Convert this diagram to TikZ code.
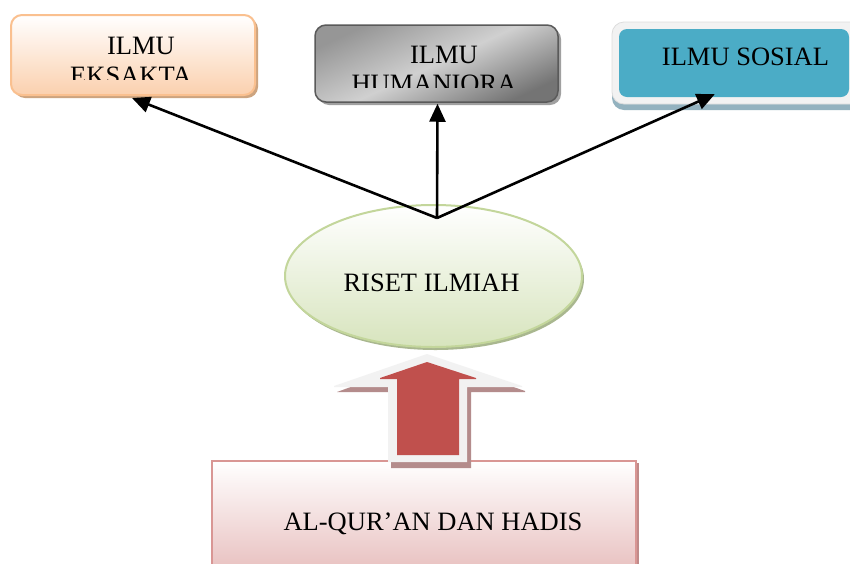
\documentclass[tikz,border=0pt]{standalone}
\usepackage{fontspec}
\setmainfont{Liberation Serif}
\usetikzlibrary{shapes.geometric,shadows,arrows.meta}
\definecolor{eksborder}{HTML}{FAC08F}
\definecolor{eksfill}{HTML}{FBD0AE}
\definecolor{eksshadow}{HTML}{CDA47F}
\definecolor{humborder}{HTML}{5A5A5A}
\definecolor{humdark}{HTML}{969696}
\definecolor{humdarker}{HTML}{747474}
\definecolor{humlight}{HTML}{D0D0D0}
\definecolor{humshadow}{HTML}{A0A0A0}
\definecolor{sosframe}{HTML}{F2F2F2}
\definecolor{sosframeb}{HTML}{DDDDDD}
\definecolor{sosshadow}{HTML}{93B2BF}
\definecolor{teal}{HTML}{4BACC6}
\definecolor{ellborder}{HTML}{C3D69B}
\definecolor{ellfill}{HTML}{D7E4BD}
\definecolor{ellshadow}{HTML}{A9B78F}
\definecolor{arrred}{HTML}{C0504D}
\definecolor{arrwhite}{HTML}{F2F2F2}
\definecolor{arrshadow}{HTML}{B48C8C}
\definecolor{qborder}{HTML}{D99694}
\definecolor{qfill}{HTML}{E4B5B4}
\definecolor{qshadow}{HTML}{C08A89}
\begin{document}
\begin{tikzpicture}[x=1pt,y=-1pt,
  txt/.style={font=\fontsize{26.5}{30}\selectfont, anchor=base, inner sep=0pt, text=black},
  arr/.style={line width=2.6pt, -{Triangle[length=18pt,width=16pt]}},
  plainbox/.style={rectangle, inner sep=0pt}
]
\clip (0,0) rectangle (850,563);
\fill[white] (0,0) rectangle (850,563);

% ---- ILMU EKSAKTA
\node[plainbox, rounded corners=11pt, minimum width=244pt, minimum height=80pt,
  draw=eksborder, line width=2pt, top color=white, bottom color=eksfill,
  drop shadow={shadow xshift=3pt, shadow yshift=-3pt, fill=eksshadow, opacity=1}]
  (eks) at (133,55) {};
\begin{scope}
  \clip (11,15) rectangle (255,79);
  \node[txt] (eksA) at (141,54.3) {ILMU};
  \node[txt] (eksB) at (131,84.5) {EKSAKTA};
\end{scope}

% ---- ILMU HUMANIORA
\node[plainbox, rounded corners=11pt, minimum width=243pt, minimum height=77pt,
  draw=humborder, line width=1.5pt, left color=humdark, right color=humdarker,
  middle color=humlight, shading angle=25,
  drop shadow={shadow xshift=3pt, shadow yshift=-3pt, fill=humshadow, opacity=1}]
  (hum) at (436.5,63.5) {};
\begin{scope}
  \clip (315,25) rectangle (558,87);
  \node[txt] (humA) at (444,63.3) {ILMU};
  \node[txt] (humB) at (434,92.8) {HUMANIORA};
\end{scope}

% ---- ILMU SOSIAL
\node[plainbox, rounded corners=12pt, minimum width=260pt, minimum height=82pt,
  fill=sosframe, draw=sosframeb, line width=0.8pt,
  drop shadow={shadow xshift=0pt, shadow yshift=-6pt, fill=sosshadow, opacity=1}]
  (sosf) at (742,63) {};
\node[plainbox, rounded corners=8pt, minimum width=230pt, minimum height=68pt,
  fill=teal] (sos) at (734,63) {};
\node[txt] (sosA) at (745.5,65) {ILMU SOSIAL};

% ---- RISET ILMIAH
\node[ellipse, inner sep=0pt, minimum width=297pt, minimum height=142pt,
  draw=ellborder, line width=2pt, top color=white, bottom color=ellfill,
  drop shadow={shadow xshift=2pt, shadow yshift=-3pt, fill=ellshadow, opacity=1}]
  (riset) at (433.5,276) {};
\node[txt] (risetA) at (431.5,291.7) {RISET ILMIAH};

% ---- connectors
\coordinate (apex) at (437,218);
\draw[arr] (apex) -- ([xshift=-1pt,yshift=-2pt]eks.south);
\draw[arr] (apex) -- ([xshift=1pt,yshift=-1pt]hum.south);
\draw[arr] (apex) -- ([xshift=96pt,yshift=3pt]sos.south west);

% ---- AL-QUR'AN DAN HADIS
\node[plainbox, minimum width=424pt, minimum height=130pt,
  draw=qborder, line width=1.8pt, top color=white, bottom color=qfill,
  drop shadow={shadow xshift=3pt, shadow yshift=-2pt, fill=qshadow, opacity=1}]
  (quran) at (424,526) {};
\node[txt] (quranA) at (433,530) {AL-QUR’AN DAN HADIS};

% ---- block arrow
\fill[arrshadow] (430,358) -- (525,391) -- (525,392) -- (471,392) -- (471,468)
  -- (391,468) -- (391,392) -- (337,392) -- cycle;
\fill[arrwhite] (427,354) -- (522,386) -- (522,387) -- (467,387) -- (467,462)
  -- (388,462) -- (388,387) -- (334,387) -- (334,386) -- cycle;
\fill[arrred] (427,362) -- (476,378) -- (476,379) -- (459,379) -- (459,455)
  -- (397,455) -- (397,379) -- (380,379) -- (380,378) -- cycle;
\end{tikzpicture}
\end{document}
